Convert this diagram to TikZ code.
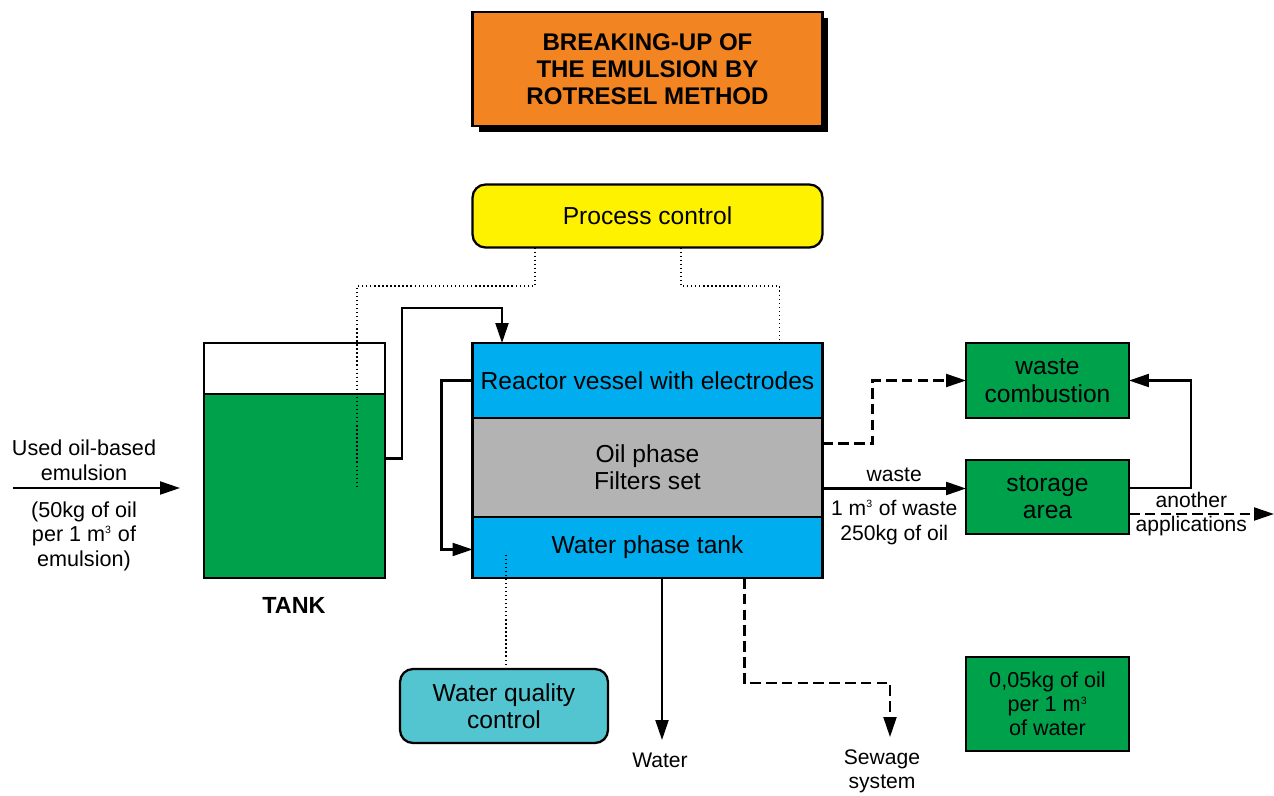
\documentclass[tikz,border=0pt]{standalone}
\usepackage{fontspec}
\setmainfont{Liberation Sans}
\usetikzlibrary{arrows.meta,positioning,calc,shadows}
\tikzset{>={Triangle[length=4mm,width=2.6mm]}}
\definecolor{titleorange}{HTML}{F28521}
\definecolor{ctrlyellow}{HTML}{FFF200}
\definecolor{wgreen}{HTML}{00A14B}
\definecolor{wblue}{HTML}{00AEEF}
\definecolor{wgray}{HTML}{B3B3B3}
\definecolor{wteal}{HTML}{53C5D0}
\newcommand{\mcube}{\textsuperscript{\fontsize{6}{6}\selectfont 3}}

\begin{document}
\begin{tikzpicture}[x=0.02cm, y=-0.02cm,
	box/.style={draw, line width=1.3pt, inner sep=0pt, outer sep=0pt, align=center, minimum width=7cm, font=\fontsize{14}{15.6}\selectfont},
	side/.style={box, fill=wgreen, minimum width=3.26cm},
	flow/.style={->, line width=1.2pt},
	dflow/.style={flow, dash pattern=on 6pt off 3pt},
	ctrl/.style={line width=0.8pt, dash pattern=on 0.8pt off 1.5pt},
	lbl/.style={align=center, inner sep=0pt, font=\fontsize{12}{13.6}\selectfont},
	feedtxt/.style={lbl, font=\fontsize{12.3}{14}\selectfont}]
	\useasboundingbox (0,0) rectangle (1274,795);

	% title and control
	\node[box, fill=titleorange, minimum height=2.28cm, font=\bfseries\fontsize{13.7}{15.4}\selectfont,
		drop shadow={shadow xshift=0.12cm, shadow yshift=-0.12cm, fill=black, opacity=1}] (title) at (647.5,69) {BREAKING-UP OF\\THE EMULSION BY\\ROTRESEL METHOD};
	\node[box, fill=ctrlyellow, rounded corners=0.26cm, minimum height=1.26cm] (proc) at (647.5,216) {Process control};

	% tank
	\node[box, fill=white, minimum width=3.62cm, minimum height=4.7cm] (tank) at (294.5,460.5) {};
	\node[box, fill=wgreen, minimum width=3.62cm, minimum height=3.68cm] (liquid) at (294.5,486) {};
	\node[lbl, font=\bfseries\fontsize{13.3}{15}\selectfont] (tanklbl) at (294,605) {TANK};

	% reactor
	\node[box, fill=wblue, minimum height=1.5cm] (vessel) at (647.5,380.5) {Reactor vessel with electrodes};
	\node[box, fill=wgray, minimum height=1.98cm, below=0pt of vessel] (oil) {Oil phase\\Filters set};
	\node[box, fill=wblue, minimum height=1.22cm, below=0pt of oil] (water) {Water phase tank};

	% right side
	\node[side, minimum height=1.5cm] (comb) at (1047.5,380.5) {waste\\combustion};
	\node[side, minimum height=1.48cm] (store) at (1047.5,497) {storage\\area};
	\node[side, minimum height=1.88cm, font=\fontsize{12.3}{13.8}\selectfont] (ratio) at (1047.5,704) {0,05kg of oil\\per 1 m\mcube\\of water};
	\node[box, fill=wteal, rounded corners=0.26cm, minimum width=4.16cm, minimum height=1.48cm] (wq) at (504,706) {Water quality\\control};

	% feed
	\coordinate (feed) at (13,488);
	\draw[flow] (feed) -- ($(feed -| tank.west)+(-24,0)$);
	\node[feedtxt] (feedtop) at (84,460) {Used oil-based\\emulsion};
	\node[feedtxt] (feedbot) at (84,536) {(50kg of oil\\per 1 m\mcube{} of\\emulsion)};

	% tank -> reactor, recirculation
	\coordinate (topin) at (502,308);
	\draw[flow] ($(tank.east)+(0,-2)$) -- ++(17,0) |- (topin) -- (topin |- vessel.north);
	\draw[flow] (vessel.west) -- ++(-31,0) |- ($(water.west)+(0,2)$);

	% control lines
	\coordinate (pcl) at (535,286);
	\coordinate (pcr) at (681,286);
	\coordinate (tanksens) at (357,488);
	\draw[ctrl] (pcl |- proc.south) -- (pcl) -| (tanksens);
	\draw[ctrl] (pcr |- proc.south) -- (pcr) -| ($(vessel.north east)+(-43,0)$);
	\draw[ctrl] ($(wq.north)+(2,0)$) -- ++(0,-114);

	% waste
	\draw[dflow] ($(oil.east)+(0,-24)$) -- ++(50,0) |- (comb.west);
	\draw[flow] ($(oil.east)+(0,21)$) coordinate (wst) -- node[lbl, above=3pt] {waste} node[lbl, below=6pt, font=\fontsize{12}{14.2}\selectfont] {1 m\mcube{} of waste\\250kg of oil} (wst -| store.west);
	\draw[flow] ($(store.east)+(0,-9)$) -- ++(62,0) |- (comb.east);
	\draw[dflow] ($(store.east)+(0,17)$) -- node[lbl, pos=0.43] {another\\applications} ++(145,0);

	% outputs
	\coordinate (wout) at (662,740);
	\draw[flow] (wout |- water.south) -- (wout);
	\node[lbl] (wlbl) at (660,760) {Water};
	\coordinate (sewend) at (890,737);
	\draw[dflow] ($(water.south)+(97,0)$) -- ++(0,105) -| (sewend);
	\node[lbl] (sewlbl) at (882,771) {Sewage\\system};
\end{tikzpicture}
\end{document}
